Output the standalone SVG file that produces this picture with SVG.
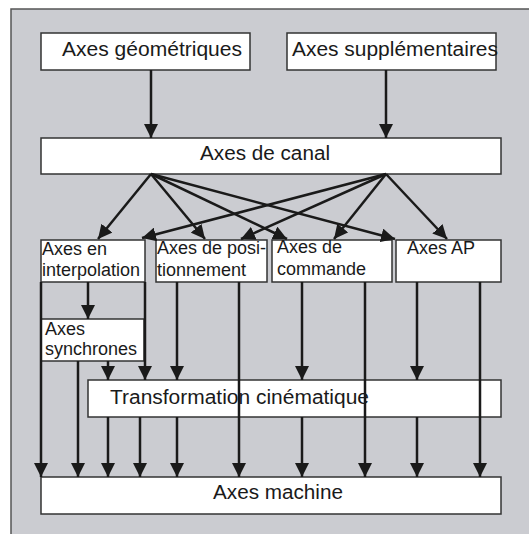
<svg xmlns="http://www.w3.org/2000/svg" width="529" height="534" viewBox="0 0 529 534">
<defs>
<marker id="ah" markerUnits="userSpaceOnUse" markerWidth="15" markerHeight="14" refX="14" refY="7" orient="auto">
<path d="M0,0 L14,7 L0,14 Z" fill="#1a1a1a"/>
</marker>
<style>
.box{fill:#fff;stroke:#333;stroke-width:1.5}
.t{font-family:"Liberation Sans",Arial,sans-serif;font-size:18px;fill:#1a1a1a}
.b{font-size:20px}
.c line{stroke:#1a1a1a;stroke-width:2.5;marker-end:url(#ah)}
</style>
</defs>
<rect x="0" y="0" width="529" height="534" fill="#fff"/>
<rect x="11" y="9" width="530" height="540" fill="#cbccd1" stroke="#555" stroke-width="1.5"/>
<g id="geo"><rect class="box" x="41" y="33" width="209" height="37"/><text class="t b" x="62" y="56" textLength="180" lengthAdjust="spacingAndGlyphs">Axes géométriques</text></g>
<g id="supp"><rect class="box" x="287" y="33" width="209" height="37"/><text class="t b" x="292" y="56" textLength="206" lengthAdjust="spacingAndGlyphs">Axes supplémentaires</text></g>
<g id="canal"><rect class="box" x="41" y="138" width="460" height="36"/><text class="t b" x="200" y="160" textLength="130" lengthAdjust="spacingAndGlyphs">Axes de canal</text></g>
<g id="interp"><rect class="box" x="41" y="240" width="104" height="42"/><text class="t" x="42" y="255">Axes en</text><text class="t" x="42" y="276">interpolation</text></g>
<g id="pos"><rect class="box" x="156" y="240" width="111" height="42"/><text class="t" x="157" y="254">Axes de posi-</text><text class="t" x="157" y="276">tionnement</text></g>
<g id="cmd"><rect class="box" x="272" y="240" width="120" height="42"/><text class="t" x="277" y="253">Axes de</text><text class="t" x="277" y="275">commande</text></g>
<g id="ap"><rect class="box" x="396" y="240" width="105" height="42"/><text class="t" x="407" y="254">Axes AP</text></g>
<g id="sync"><rect class="box" x="41" y="319" width="103" height="42"/><text class="t" x="45" y="335">Axes</text><text class="t" x="45" y="355">synchrones</text></g>
<g id="trans"><rect class="box" x="88" y="380" width="413" height="37"/><text class="t b" x="110" y="404" textLength="259" lengthAdjust="spacingAndGlyphs">Transformation cinématique</text></g>
<g id="machine"><rect class="box" x="41" y="477" width="460" height="37"/><text class="t b" x="213" y="499" textLength="130" lengthAdjust="spacingAndGlyphs">Axes machine</text></g>
<g class="c" id="connectors">
<line x1="151" y1="70" x2="151" y2="138"/>
<line x1="386" y1="70" x2="386" y2="138"/>
<line x1="151" y1="174" x2="98" y2="239"/>
<line x1="151" y1="174" x2="205" y2="239"/>
<line x1="151" y1="174" x2="287" y2="239"/>
<line x1="151" y1="174" x2="395" y2="239"/>
<line x1="386" y1="174" x2="142" y2="238"/>
<line x1="386" y1="174" x2="241" y2="239"/>
<line x1="386" y1="174" x2="334" y2="239"/>
<line x1="386" y1="174" x2="447" y2="239"/>
<line x1="88" y1="282" x2="88" y2="319"/>
<line x1="145" y1="282" x2="145" y2="380"/>
<line x1="78" y1="361" x2="78" y2="477"/>
<line x1="108" y1="361" x2="108" y2="380"/>
<line x1="177" y1="282" x2="177" y2="380"/>
<line x1="302" y1="282" x2="302" y2="380"/>
<line x1="417" y1="282" x2="417" y2="380"/>
<line x1="108" y1="417" x2="108" y2="477"/>
<line x1="140" y1="417" x2="140" y2="477"/>
<line x1="177" y1="417" x2="177" y2="477"/>
<line x1="302" y1="417" x2="302" y2="477"/>
<line x1="417" y1="417" x2="417" y2="477"/>
<line x1="41" y1="282" x2="41" y2="477"/>
<line x1="239" y1="282" x2="239" y2="477"/>
<line x1="365" y1="282" x2="365" y2="477"/>
<line x1="480" y1="282" x2="480" y2="477"/>
</g>
</svg>
